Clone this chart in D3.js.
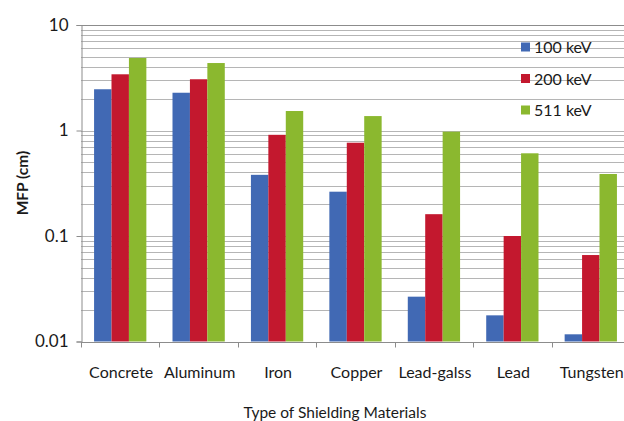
<!DOCTYPE html>
<html>
<head>
<meta charset="utf-8">
<script src="https://cdn.jsdelivr.net/npm/d3@7"></script>
<style>
  html, body { margin: 0; padding: 0; background: #fff; }
  svg { display: block; font-family: Lato, "Open Sans", sans-serif; }
</style>
</head>
<body>
<svg id="chart" width="624" height="421"></svg>
<script>
// Shielding materials on the x axis
const materials = ["Concrete", "Aluminum", "Iron", "Copper", "Lead-galss", "Lead", "Tungsten"];
// Photon energies (one bar series each)
const energies = ["100 keV", "200 keV", "511 keV"];
// Mean free path (cm) per material, one array per energy
const mfp100 = [2.46, 2.28, 0.38, 0.263, 0.0266, 0.0177, 0.0117];
const mfp200 = [3.41, 3.06, 0.91, 0.766, 0.161, 0.100, 0.066];
const mfp511 = [4.87, 4.36, 1.53, 1.37, 0.975, 0.608, 0.387];
const yTicks = [0.01, 0.1, 1, 10];
const yTickLabels = ["0.01", "0.1", "1", "10"];

const series = [mfp100, mfp200, mfp511];
const colors = ["#4169B4", "#C3182E", "#8BB82F"];

const svg = d3.select("#chart");
const plotL = 81, plotR = 630, plotT = 25, plotB = 341.5;

const x = d3.scaleBand().domain(materials).range([plotL, plotR]).paddingInner(0).paddingOuter(0);
// Gap between groups is 1.5 bar widths: each band holds 3 bars + 1.5 gap
const barW = x.bandwidth() / 4.5;
const xs = d3.scaleBand().domain(d3.range(energies.length))
  .range([barW * 0.75, barW * 0.75 + barW * 3]);

const y = d3.scaleLog().domain([0.01, 10]).range([plotB, plotT]);

// Gridlines: every 1..9 step in each decade
const gridVals = [];
for (let e = -2; e <= 0; e++) {
  for (let m = 1; m <= 9; m++) gridVals.push(m * Math.pow(10, e));
}
gridVals.push(10);

svg.append("g")
  .selectAll("line")
  .data(gridVals.filter(v => v > 0.0100001))
  .join("line")
  .attr("x1", plotL).attr("x2", plotR)
  .attr("y1", d => Math.round(y(d)) + 0.5)
  .attr("y2", d => Math.round(y(d)) + 0.5)
  .attr("stroke", d => d === 10 ? "#8c8c8c" : "#b5b5b5")
  .attr("stroke-width", 1);

// Bars
const groups = svg.append("g")
  .selectAll("g")
  .data(series)
  .join("g")
  .attr("fill", (d, i) => colors[i]);

groups.each(function (vals, si) {
  d3.select(this).selectAll("rect")
    .data(vals.map((v, i) => ({ v, m: materials[i] })))
    .join("rect")
    .attr("x", d => x(d.m) + xs(si))
    .attr("width", xs.bandwidth())
    .attr("y", d => y(d.v))
    .attr("height", d => plotB - y(d.v));
});

// Y axis
const yAxis = d3.axisLeft(y).tickValues(yTicks)
  .tickFormat((d, i) => yTickLabels[i]).tickSize(5).tickPadding(8);
const gy = svg.append("g").attr("transform", `translate(${plotL + 0.5},0)`).call(yAxis);
gy.select(".domain").attr("stroke", "#8c8c8c");
gy.selectAll(".tick line").attr("stroke", "#8c8c8c");
gy.selectAll(".tick text").attr("font-size", 17).attr("fill", "#1a1a1a")
  .attr("font-family", "Lato, sans-serif");

// X axis with ticks on category boundaries
const gx = svg.append("g").attr("transform", `translate(0,${Math.round(plotB) + 0.5})`);
gx.append("line").attr("x1", plotL).attr("x2", plotR).attr("stroke", "#8c8c8c");
gx.selectAll(".sep")
  .data(d3.range(materials.length + 1))
  .join("line")
  .attr("class", "sep")
  .attr("x1", i => Math.round(plotL + i * x.step()) + 0.5)
  .attr("x2", i => Math.round(plotL + i * x.step()) + 0.5)
  .attr("y1", 0).attr("y2", 5)
  .attr("stroke", "#8c8c8c");
gx.selectAll(".lab")
  .data(materials)
  .join("text")
  .attr("class", "lab")
  .attr("x", d => x(d) + x.bandwidth() / 2 + 1)
  .attr("y", 35)
  .attr("text-anchor", "middle")
  .attr("font-size", 16)
  .attr("fill", "#1a1a1a")
  .text(d => d);

// Axis titles
svg.append("text")
  .attr("transform", "translate(28,183) rotate(-90)")
  .attr("text-anchor", "middle")
  .attr("font-size", 15.5)
  .attr("font-weight", "bold")
  .attr("fill", "#1a1a1a")
  .text("MFP (cm)");

svg.append("text")
  .attr("x", 335).attr("y", 418)
  .attr("text-anchor", "middle")
  .attr("font-size", 15.5)
  .attr("fill", "#1a1a1a")
  .text("Type of Shielding Materials");

// Legend
const legend = svg.append("g").attr("transform", "translate(521,47)");
const li = legend.selectAll("g").data(energies).join("g")
  .attr("transform", (d, i) => `translate(0,${i * 31.5})`);
li.append("rect").attr("x", 0).attr("y", -4.5).attr("width", 9).attr("height", 9)
  .attr("fill", (d, i) => colors[i]);
li.append("text").attr("x", 13).attr("y", 6).attr("font-size", 16).attr("fill", "#1a1a1a")
  .text(d => d);
</script>
</body>
</html>
